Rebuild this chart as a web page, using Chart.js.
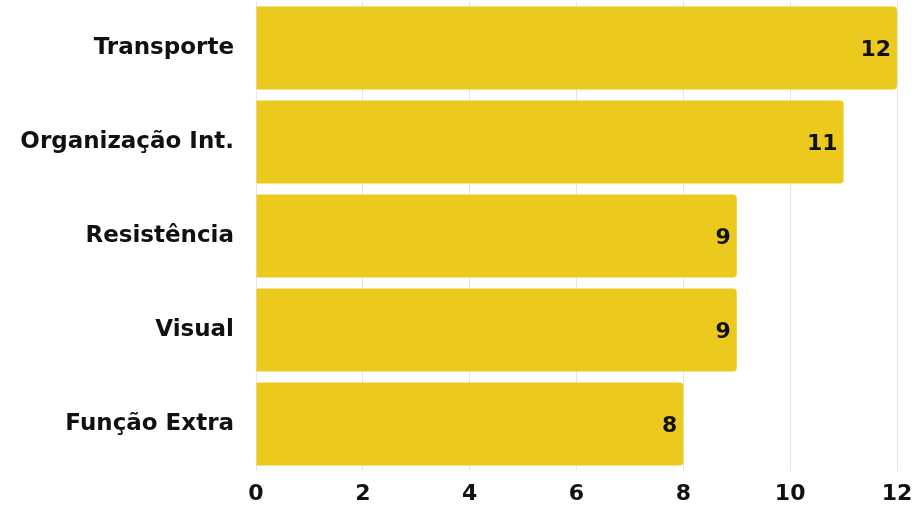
<!DOCTYPE html>
<html>

<head>
    <title>Chart</title>
    <meta charset="UTF-8">
    <script src="https://cdn.jsdelivr.net/npm/chart.js@4.4.1/dist/chart.umd.min.js"></script>
    <style>
        html, body { margin: 0; padding: 0; background: #fff; }
        #wrap { width: 913px; height: 509px; }
    </style>
</head>

<body>
    <div id="wrap"><canvas id="barChart"></canvas></div>
    <script>
        const categories = ["Transporte", "Organização Int.", "Resistência", "Visual", "Função Extra"];
        const values = [12, 11, 9, 9, 8];
        const xTicks = [0, 2, 4, 6, 8, 10, 12];

        const barColor = '#ECC91D';
        const fontFamily = '"DejaVu Sans", sans-serif';

        // labels drawn at the end of each bar
        const valueLabels = {
            id: 'valueLabels',
            afterDatasetsDraw(chart) {
                const ctx = chart.ctx;
                const meta = chart.getDatasetMeta(0);
                ctx.save();
                ctx.fillStyle = '#111';
                ctx.font = 'bold 22px ' + fontFamily;
                ctx.textAlign = 'right';
                ctx.textBaseline = 'middle';
                meta.data.forEach((bar, i) => {
                    ctx.fillText(values[i], bar.x - 6, bar.y + 2);
                });
                ctx.restore();
            }
        };

        new Chart(document.getElementById('barChart'), {
            type: 'bar',
            data: {
                labels: categories,
                datasets: [{
                    data: values,
                    backgroundColor: barColor,
                    borderRadius: { topRight: 4, bottomRight: 4 },
                    borderSkipped: 'start',
                    barPercentage: 0.885,
                    categoryPercentage: 1.0
                }]
            },
            options: {
                indexAxis: 'y',
                responsive: true,
                maintainAspectRatio: false,
                animation: false,
                layout: { padding: { top: 1, right: 16, left: 0, bottom: 0 } },
                plugins: {
                    legend: { display: false },
                    tooltip: { enabled: false }
                },
                scales: {
                    x: {
                        min: 0,
                        max: 12,
                        afterBuildTicks: (scale) => { scale.ticks = xTicks.map(v => ({ value: v })); },
                        afterFit: (scale) => {
                            scale.height = 38;
                            scale.paddingLeft = 0;
                            scale.paddingRight = 0;
                        },
                        grid: { color: '#e6e6e6', drawTicks: false },
                        border: { display: false },
                        ticks: {
                            color: '#111',
                            padding: 10,
                            font: { family: fontFamily, size: 22, weight: 'bold' }
                        }
                    },
                    y: {
                        afterFit: (scale) => {
                            scale.width = 256;
                            scale.paddingTop = 0;
                            scale.paddingBottom = 0;
                        },
                        grid: { display: false },
                        border: { display: false },
                        ticks: {
                            color: '#111',
                            padding: 14,
                            font: { family: fontFamily, size: 23, weight: 'bold' }
                        }
                    }
                }
            },
            plugins: [valueLabels]
        });
    </script>

</body>

</html>
